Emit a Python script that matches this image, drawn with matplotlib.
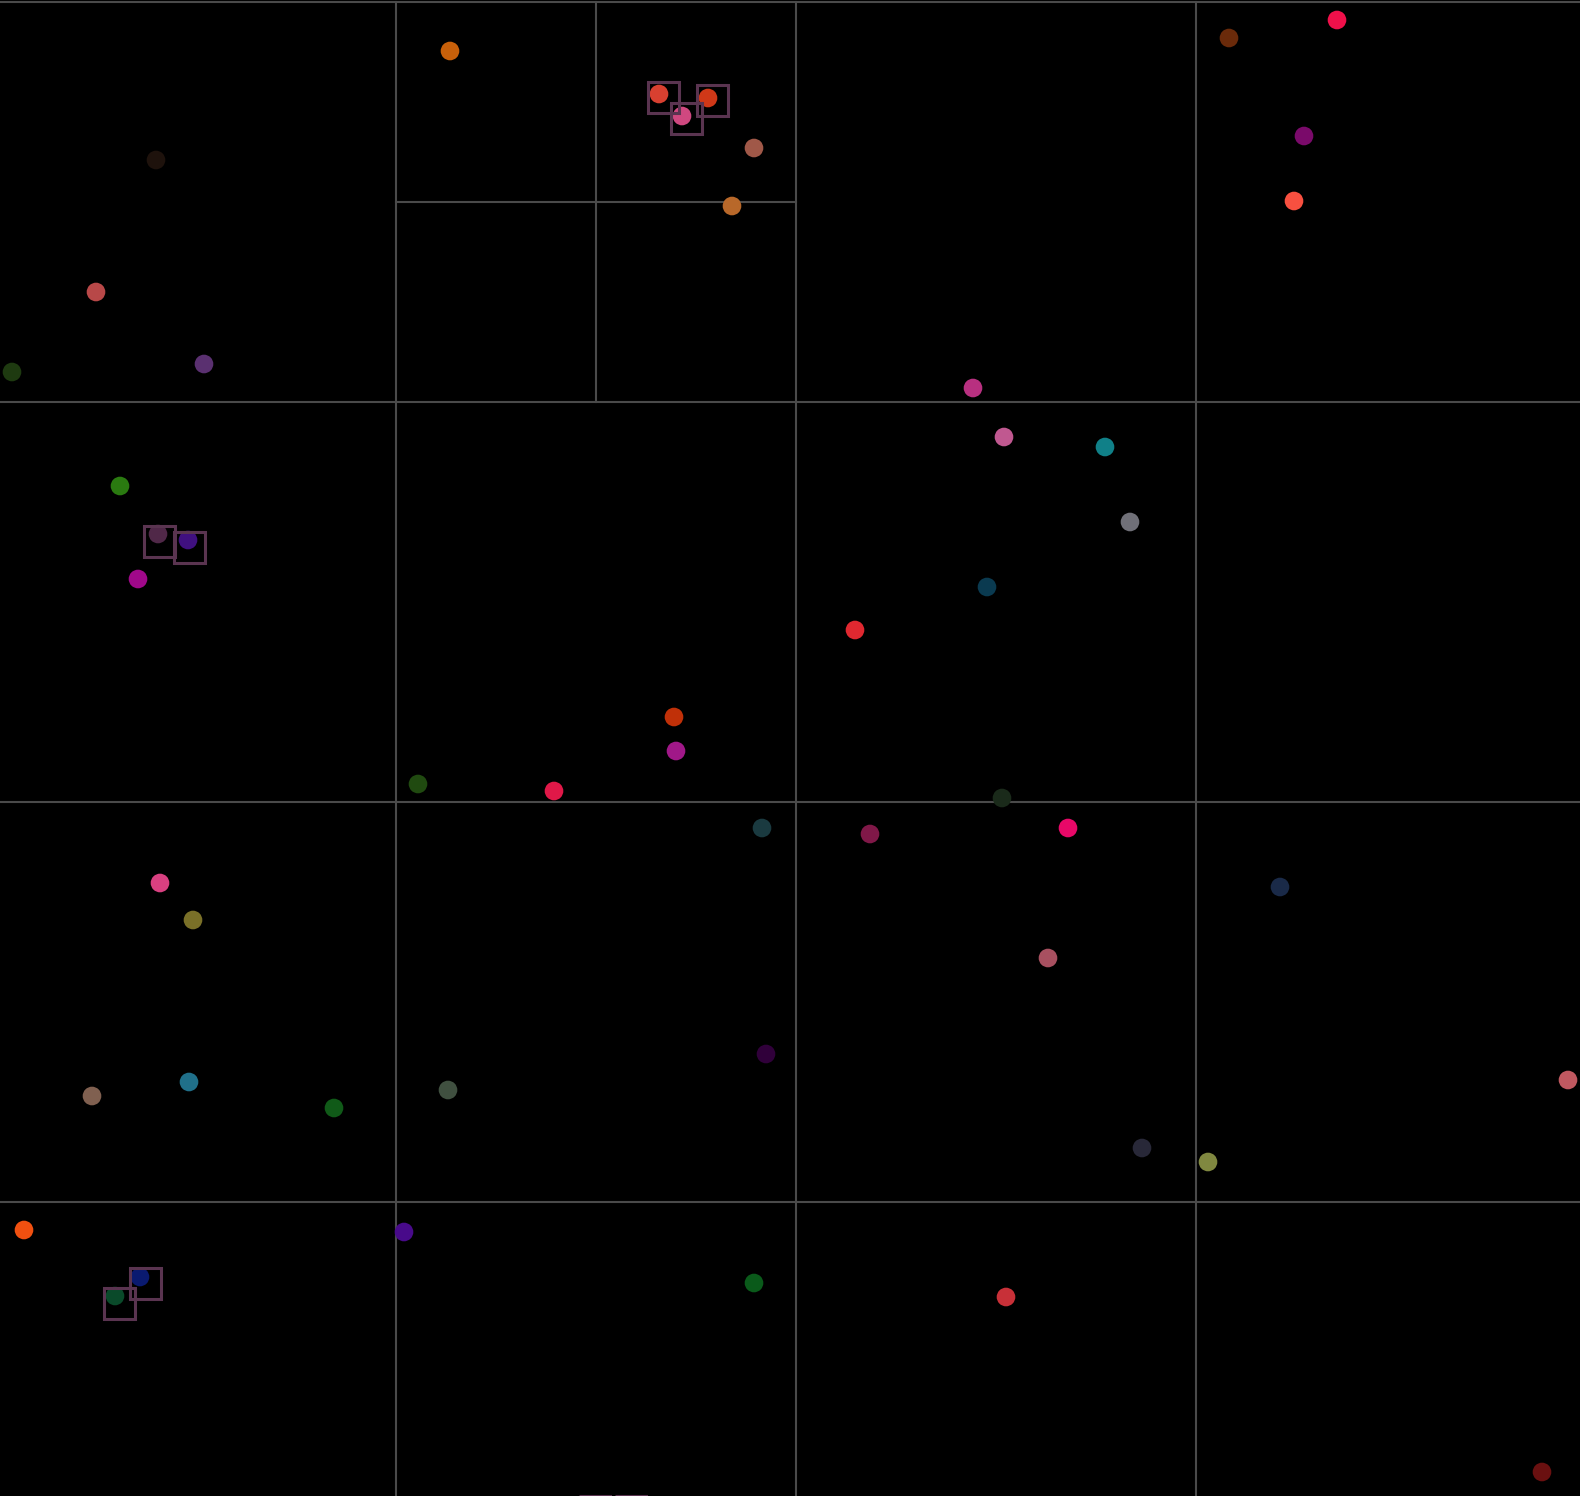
import matplotlib.pyplot as plt
import numpy as np

# punkty (x, y w pikselach obrazu, y w dol)
pts_x = [450, 156, 96, 12, 204, 659, 708, 682, 754, 732,
         1229, 1337, 1304, 1294, 973, 1004, 1105, 1130, 987, 855,
         120, 158, 188, 138, 674, 676, 418, 554, 1002, 762,
         870, 1068, 160, 193, 1280, 1048, 766, 1568, 92, 189,
         334, 448, 1142, 1208, 24, 404, 140, 115, 754, 1006,
         1542, 592, 626]
pts_y = [51, 160, 292, 372, 364, 94, 98, 116, 148, 206,
         38, 20, 136, 201, 388, 437, 447, 522, 587, 630,
         486, 534, 540, 579, 717, 751, 784, 791, 798, 828,
         834, 828, 883, 920, 887, 958, 1054, 1080, 1096, 1082,
         1108, 1090, 1148, 1162, 1230, 1232, 1277, 1296, 1283, 1297,
         1472, 1506, 1506]
pts_kolor = ["#c8600a", "#1e120c", "#b84848", "#1e3a10", "#5a3070", "#d84030", "#d03818", "#d04880", "#a05848", "#b8682a",
             "#6a2a0a", "#f0104a", "#7a0a6a", "#f85040", "#b83080", "#c05890", "#108088", "#707078", "#0a3a50", "#e02830",
             "#2a7a10", "#502848", "#401080", "#a0088a", "#c03008", "#a01888", "#204a10", "#e01848", "#1a2a1a", "#1a3a40",
             "#801848", "#e80868", "#d84080", "#7a7028", "#1a2a48", "#a85060", "#30003a", "#c05860", "#806050", "#20708a",
             "#105a18", "#405040", "#282838", "#808840", "#f05010", "#480a8a", "#0a1a70", "#0a4a2a", "#0a5a1a", "#c83038",
             "#6a1010", "#c03040", "#6020a0"]

# zaznaczone kwadraty (lewy gorny rog)
box_x = [648, 697, 671, 144, 174, 130, 104, 579, 615]
box_y = [82, 85, 103, 526, 532, 1268, 1288, 1495.5, 1495.5]
box_size = 31

# podzialy drzewa czworkowego: (x0, y0, x1, y1)
linie = [
    (-4, 1.5, 1596, 1.5),
    (395.5, 1.5, 395.5, 1601), (795.5, 1.5, 795.5, 1601), (1195.5, 1.5, 1195.5, 1601),
    (-4, 401.5, 1596, 401.5), (-4, 801.5, 1596, 801.5), (-4, 1201.5, 1596, 1201.5),
    (595.5, 1.5, 595.5, 401.5), (395.5, 201.5, 795.5, 201.5),
]

fig = plt.figure(figsize=(15.8, 14.96), dpi=100, facecolor="black")
ax = fig.add_axes([0, 0, 1, 1])
ax.set_facecolor("black")
ax.set_xlim(0, 1580)
ax.set_ylim(1496, 0)
ax.axis("off")

for x0, y0, x1, y1 in linie:
    ax.plot([x0, x1], [y0, y1], color="#4a4a4a", linewidth=1.5, zorder=1)

ax.scatter(pts_x, pts_y, s=180, c=pts_kolor, linewidths=0, zorder=2)

for bx, by in zip(box_x, box_y):
    ax.add_patch(plt.Rectangle((bx, by), box_size, box_size, fill=False,
                               edgecolor="#5a3450", linewidth=2.2, zorder=3))

fig.savefig("out.png", dpi=100, facecolor="black")
